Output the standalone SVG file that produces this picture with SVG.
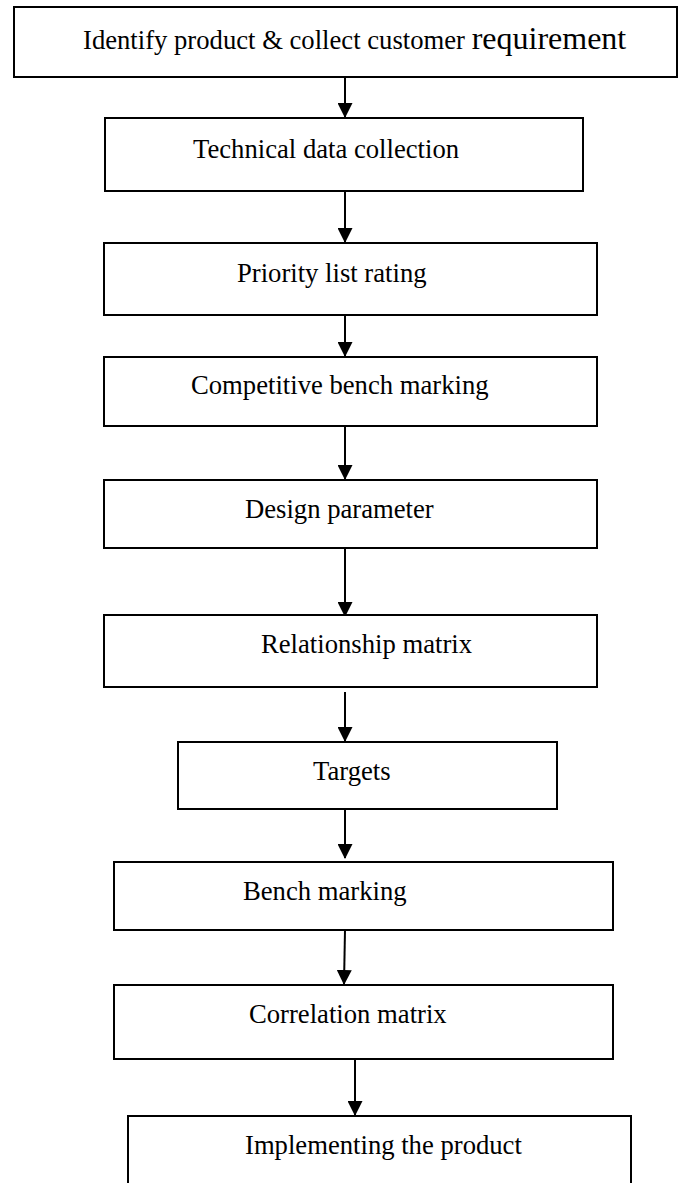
<svg xmlns="http://www.w3.org/2000/svg" width="681" height="1183" viewBox="0 0 681 1183">
  <style>
    .box { fill: #ffffff; stroke: #000000; stroke-width: 2; }
    .lbl { font-family: "Liberation Serif", "Times New Roman", serif; font-size: 26.67px; fill: #000000; }
    .big { font-size: 32px; }
    .conn { stroke: #000000; stroke-width: 2; fill: none; marker-end: url(#arrow); }
  </style>
  <defs>
    <marker id="arrow" markerUnits="userSpaceOnUse" markerWidth="15" markerHeight="15" viewBox="0 0 15 15" refX="14" refY="7.5" orient="auto">
      <path d="M0,0 L15,7.5 L0,15 Z" fill="#000000"/>
    </marker>
  </defs>
  <rect width="681" height="1183" fill="#ffffff"/>

  <g id="connectors">
    <line class="conn" x1="345" y1="77" x2="345" y2="117"/>
    <line class="conn" x1="345" y1="191" x2="345" y2="242"/>
    <line class="conn" x1="345" y1="315" x2="345" y2="356"/>
    <line class="conn" x1="345" y1="426" x2="345" y2="479"/>
    <line class="conn" x1="345" y1="548" x2="345" y2="616"/>
    <line class="conn" x1="345" y1="692" x2="345" y2="741"/>
    <line class="conn" x1="345" y1="809" x2="345" y2="858"/>
    <line class="conn" x1="345" y1="930" x2="344" y2="984"/>
    <line class="conn" x1="355" y1="1059" x2="355" y2="1115"/>
  </g>

  <g id="node1">
    <rect class="box" x="14" y="7" width="663" height="70"/>
    <text class="lbl" x="83" y="49">Identify product &amp; collect customer <tspan class="big">requirement</tspan></text>
  </g>
  <g id="node2">
    <rect class="box" x="105" y="118" width="478" height="73"/>
    <text class="lbl" x="193" y="158">Technical data collection</text>
  </g>
  <g id="node3">
    <rect class="box" x="104" y="243" width="493" height="72"/>
    <text class="lbl" x="237" y="282">Priority list rating</text>
  </g>
  <g id="node4">
    <rect class="box" x="104" y="357" width="493" height="69"/>
    <text class="lbl" x="191" y="394">Competitive bench marking</text>
  </g>
  <g id="node5">
    <rect class="box" x="104" y="480" width="493" height="68"/>
    <text class="lbl" x="245" y="518">Design parameter</text>
  </g>
  <g id="node6">
    <rect class="box" x="104" y="615" width="493" height="72"/>
    <text class="lbl" x="261" y="653">Relationship matrix</text>
  </g>
  <g id="node7">
    <rect class="box" x="178" y="742" width="379" height="67"/>
    <text class="lbl" x="313" y="780">Targets</text>
  </g>
  <g id="node8">
    <rect class="box" x="114" y="862" width="499" height="68"/>
    <text class="lbl" x="243" y="900">Bench marking</text>
  </g>
  <g id="node9">
    <rect class="box" x="114" y="985" width="499" height="74"/>
    <text class="lbl" x="249" y="1023">Correlation matrix</text>
  </g>
  <g id="node10">
    <rect class="box" x="128" y="1116" width="503" height="90"/>
    <text class="lbl" x="245" y="1154">Implementing the product</text>
  </g>
</svg>
